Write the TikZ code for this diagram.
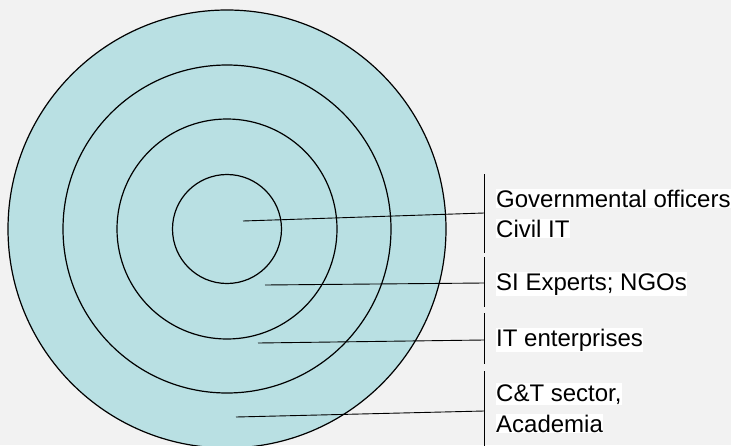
\documentclass[tikz,border=0pt]{standalone}
\usepackage{fontspec}
\setmainfont{Liberation Sans}
\definecolor{ringfill}{HTML}{B9E0E3}
\definecolor{pagegray}{HTML}{F2F2F2}

\begin{document}
\begin{tikzpicture}[x=1pt,y=-1pt]
    \fill[pagegray] (0,0) rectangle (731,445);
    \useasboundingbox (0,0) rectangle (731,445);

    \begin{scope}[every node/.style={draw=black,circle,line width=1.2pt,fill=ringfill,inner sep=0pt}]
        \node[minimum size=438pt] (R_4) at (227,229) {};  % outer ring
        \node[minimum size=328pt] (R_3) at (227,229) {};
        \node[minimum size=220pt] (R_2) at (227,229) {};
        \node[minimum size=109pt] (R_1) at (227,229) {};  % core
    \end{scope}

    % leader start points inside the rings
    \coordinate (S_1) at (243,221);
    \coordinate (S_2) at (265,285);
    \coordinate (S_3) at (258,343);
    \coordinate (S_4) at (236,417);

    % leader end points on the bars
    \coordinate (E_1) at (484,213);
    \coordinate (E_2) at (484,283);
    \coordinate (E_3) at (484,340);
    \coordinate (E_4) at (484,411);

    \coordinate (T_1) at (484,174);
    \coordinate (B_1) at (484,253);
    \coordinate (T_2) at (484,257);
    \coordinate (B_2) at (484,307);
    \coordinate (T_3) at (484,313);
    \coordinate (B_3) at (484,364);
    \coordinate (T_4) at (484,371);
    \coordinate (B_4) at (484,447);

    \begin{scope}[every path/.style={draw=black,line width=0.9pt}]
        \path (T_1) -- (B_1);
        \path (T_2) -- (B_2);
        \path (T_3) -- (B_3);
        \path (T_4) -- (B_4);

        \path (S_1) -- (E_1);
        \path (S_2) -- (E_2);
        \path (S_3) -- (E_3);
        \path (S_4) -- (E_4);
    \end{scope}

    \begin{scope}[every node/.style={anchor=base west,fill=white,inner xsep=0pt,inner ysep=1pt,font=\fontsize{24}{30}\selectfont}]
        \node (L_1a) at (496,207) {Governmental officers};
        \node (L_1b) at (496,237) {Civil IT};
        \node (L_2) at (496,290) {SI Experts; NGOs};
        \node (L_3) at (496,346) {IT enterprises};
        \node (L_4a) at (496,401) {C\&T sector,};
        \node (L_4b) at (496,432) {Academia};
    \end{scope}
\end{tikzpicture}
\end{document}
